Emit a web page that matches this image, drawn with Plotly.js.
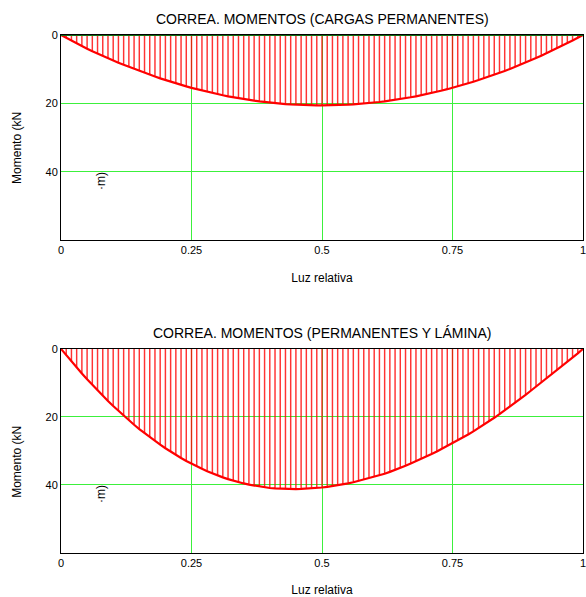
<!DOCTYPE html>
<html>
<head>
<meta charset="utf-8">
<script src="https://cdn.plot.ly/plotly-3.0.1.min.js"></script>
<style>html,body{margin:0;padding:0;background:#fff;}#chart{width:586px;height:597px;}</style>
</head>
<body>
<div id="chart"></div>
<script>
// Relative span positions (0..1, step 0.01)
const luz = [0,0.01,0.02,0.03,0.04,0.05,0.06,0.07,0.08,0.09,0.10,0.11,0.12,0.13,0.14,0.15,0.16,0.17,0.18,0.19,0.20,0.21,0.22,0.23,0.24,0.25,0.26,0.27,0.28,0.29,0.30,0.31,0.32,0.33,0.34,0.35,0.36,0.37,0.38,0.39,0.40,0.41,0.42,0.43,0.44,0.45,0.46,0.47,0.48,0.49,0.50,0.51,0.52,0.53,0.54,0.55,0.56,0.57,0.58,0.59,0.60,0.61,0.62,0.63,0.64,0.65,0.66,0.67,0.68,0.69,0.70,0.71,0.72,0.73,0.74,0.75,0.76,0.77,0.78,0.79,0.80,0.81,0.82,0.83,0.84,0.85,0.86,0.87,0.88,0.89,0.90,0.91,0.92,0.93,0.94,0.95,0.96,0.97,0.98,0.99,1.00];

// Moment, permanent loads (kN·m)
const momPermanentes = [0,0.85,1.68,2.48,3.26,4.02,4.76,5.47,6.16,6.83,7.47,8.10,8.72,9.33,9.92,10.51,11.07,11.63,12.16,12.68,13.18,13.67,14.14,14.59,15.03,15.45,15.85,16.24,16.61,16.97,17.30,17.63,17.93,18.22,18.49,18.75,18.98,19.21,19.41,19.60,19.78,19.93,20.07,20.20,20.30,20.39,20.47,20.53,20.57,20.59,20.60,20.59,20.57,20.53,20.47,20.39,20.30,20.20,20.07,19.93,19.78,19.60,19.41,19.21,18.98,18.75,18.49,18.22,17.93,17.63,17.30,16.97,16.61,16.24,15.85,15.45,15.03,14.59,14.14,13.67,13.18,12.68,12.16,11.63,11.07,10.51,9.92,9.32,8.70,8.07,7.42,6.75,6.06,5.36,4.65,3.91,3.16,2.40,1.62,0.82,0];

// Moment, permanent loads + sheet (kN·m)
const momLamina = [0,1.88,3.71,5.50,7.25,8.95,10.61,12.22,13.79,15.32,16.80,18.24,19.63,20.98,22.29,23.55,24.77,25.94,27.07,28.16,29.20,30.20,31.15,32.06,32.93,33.75,34.53,35.26,35.95,36.60,37.20,37.76,38.27,38.74,39.17,39.55,39.89,40.18,40.43,40.64,40.90,41.00,41.10,41.15,41.20,41.20,41.15,41.10,41.00,40.90,40.75,40.55,40.35,40.10,39.85,39.55,39.20,38.80,38.40,38.00,37.60,37.20,36.70,36.15,35.60,35.00,34.35,33.70,33.05,32.35,31.65,30.90,30.15,29.35,28.55,27.70,26.85,26.00,25.15,24.25,23.30,22.30,21.30,20.25,19.20,18.10,17.00,15.85,14.70,13.50,12.30,11.10,9.90,8.70,7.50,6.30,5.05,3.80,2.55,1.30,0];

const titulos = ['CORREA. MOMENTOS (CARGAS PERMANENTES)', 'CORREA. MOMENTOS (PERMANENTES Y LÁMINA)'];
const xTicks = [0, 0.25, 0.5, 0.75, 1];
const xTickText = ['0', '0.25', '0.5', '0.75', '1'];
const yTicks = [0, 20, 40];
const yTickText = ['0', '20', '40'];

const FONT = 'Liberation Sans, Arial, sans-serif';
const RED = 'rgb(255,0,0)';
const GRID = 'rgb(60,240,60)';

function stems(y, xa, ya) {
  return {type:'bar', x: luz, y: y, base: 0, width: 0.0028, xaxis: xa, yaxis: ya,
    marker:{color:'rgba(255,0,0,0.8)', line:{width:0}}, hoverinfo:'skip', showlegend:false};
}
function curve(y, xa, ya) {
  return {type:'scatter', mode:'lines', x: luz, y: y, xaxis: xa, yaxis: ya,
    line:{color:RED, width:2.2}, showlegend:false};
}

const data = [
  stems(momPermanentes, 'x', 'y'), curve(momPermanentes, 'x', 'y'),
  stems(momLamina, 'x2', 'y2'), curve(momLamina, 'x2', 'y2')
];

function xax(anchor) {
  return {anchor: anchor, domain:[0,1], range:[0,1], tickvals:xTicks, ticktext:xTickText,
    showgrid:true, gridcolor:GRID, gridwidth:1, zeroline:false, showline:true, linecolor:'#000', linewidth:1,
    mirror:true, ticks:'', ticklabeloverflow:'allow', tickfont:{family:FONT, size:11, color:'#000'},
    title:{text:'Luz relativa', font:{family:FONT, size:12, color:'#000'}, standoff:18}};
}
function yax(anchor, dom) {
  return {anchor: anchor, domain: dom, range:[60,0], tickvals:yTicks, ticktext:yTickText,
    showgrid:true, gridcolor:GRID, gridwidth:1, zeroline:false, showline:true, linecolor:'#000', linewidth:1,
    mirror:true, ticks:'', tickfont:{family:FONT, size:11, color:'#000'}};
}

const TXT = {family:FONT, size:12, color:'#000'};
const layout = {
  width:586, height:597,
  margin:{l:61, r:3, t:35, b:44},
  paper_bgcolor:'#fff', plot_bgcolor:'#fff',
  font:{family:FONT, size:11, color:'#000'},
  barmode:'overlay',
  xaxis: xax('y'), yaxis: yax('x', [0.604, 1]),
  xaxis2: xax('y2'), yaxis2: yax('x2', [0, 0.394]),
  shapes:[
    {type:'line', xref:'x', yref:'y', x0:0, x1:1, y0:0, y1:0, line:{color:'rgb(20,110,20)', width:2}, layer:'above'}
  ],
  annotations:[
    {text:titulos[0], xref:'paper', yref:'paper', x:0.5, y:1.0, yshift:16, xanchor:'center', yanchor:'middle', showarrow:false, font:{family:FONT, size:14, color:'#000'}},
    {text:titulos[1], xref:'paper', yref:'paper', x:0.5, y:0.394, yshift:16, xanchor:'center', yanchor:'middle', showarrow:false, font:{family:FONT, size:14, color:'#000'}},
    {text:'Momento (kN', xref:'paper', yref:'paper', x:0, xshift:-44, y:0.782, xanchor:'center', yanchor:'middle', textangle:-90, showarrow:false, font:TXT},
    {text:'·m)', xref:'paper', yref:'paper', x:0.0766, y:0.718, xanchor:'center', yanchor:'middle', textangle:-90, showarrow:false, font:TXT},
    {text:'Momento (kN', xref:'paper', yref:'paper', x:0, xshift:-44, y:0.176, xanchor:'center', yanchor:'middle', textangle:-90, showarrow:false, font:TXT},
    {text:'·m)', xref:'paper', yref:'paper', x:0.0766, y:0.114, xanchor:'center', yanchor:'middle', textangle:-90, showarrow:false, font:TXT}
  ]
};

Plotly.newPlot('chart', data, layout, {displayModeBar:false, staticPlot:true});
</script>
</body>
</html>
